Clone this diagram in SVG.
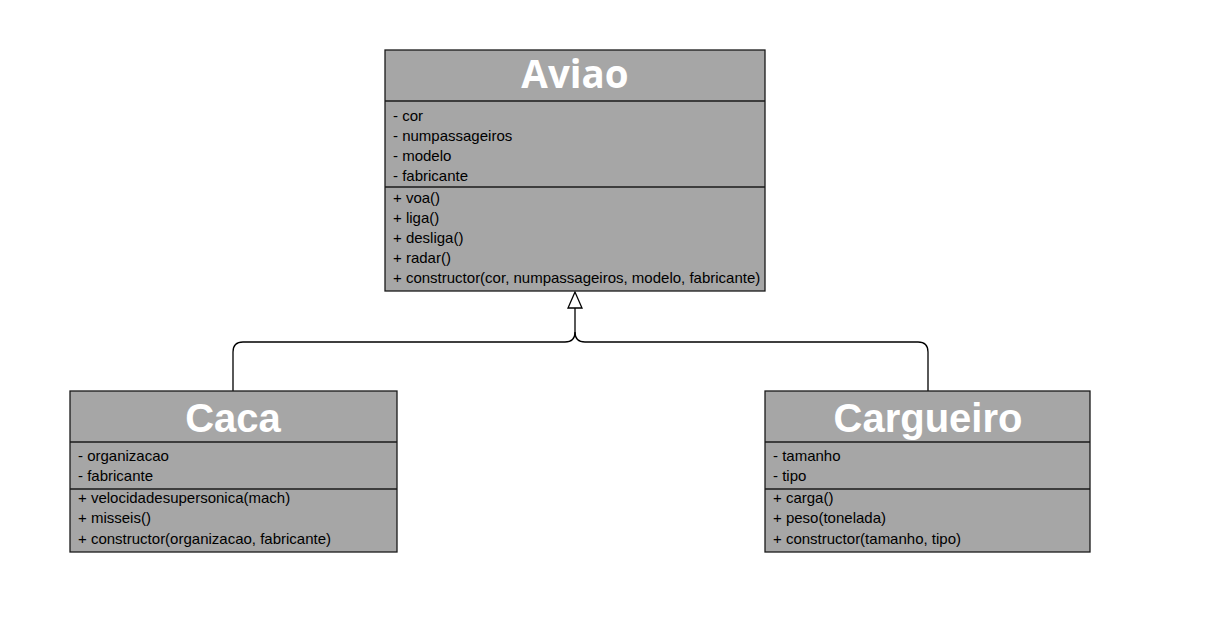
<svg xmlns="http://www.w3.org/2000/svg" width="1208" height="620" viewBox="0 0 1208 620">
<style>
.box{fill:#a6a6a6;stroke:#1a1a1a;stroke-width:1.3}
.div{stroke:#1a1a1a;stroke-width:1.3}
.t{font-family:"Liberation Sans",Arial,sans-serif;font-size:15px;fill:#000}
.h{font-family:"Liberation Sans",Arial,sans-serif;font-size:40px;font-weight:bold;fill:#fff;text-anchor:middle}
.ha{font-family:"Open Sans",sans-serif;font-size:38.5px;font-weight:bold;fill:#fff;text-anchor:middle}
.c{fill:none;stroke:#000;stroke-width:1.3}
</style>
<rect width="1208" height="620" fill="#fff"/>
<g id="connectors">
<path class="c" d="M233 391 V352 Q233 342 243 342 H565 Q575 342 575 332 V308"/>
<path class="c" d="M928 391 V352 Q928 342 918 342 H585 Q575 342 575 332"/>
<polygon points="575,292 568,308 582,308" fill="#fff" stroke="#000" stroke-width="1.3"/>
</g>
<g id="Aviao">
<rect class="box" x="385" y="50" width="380" height="241"/>
<line class="div" x1="385" y1="101" x2="765" y2="101"/>
<line class="div" x1="385" y1="187" x2="765" y2="187"/>
<text class="ha" x="575" y="88">Aviao</text>
<text class="t" x="393" y="121">- cor</text>
<text class="t" x="393" y="141">- numpassageiros</text>
<text class="t" x="393" y="161">- modelo</text>
<text class="t" x="393" y="181">- fabricante</text>
<text class="t" x="393" y="203">+ voa()</text>
<text class="t" x="393" y="223">+ liga()</text>
<text class="t" x="393" y="243">+ desliga()</text>
<text class="t" x="393" y="263">+ radar()</text>
<text class="t" x="393" y="283">+ constructor(cor, numpassageiros, modelo, fabricante)</text>
</g>
<g id="Caca">
<rect class="box" x="70" y="391" width="327" height="161"/>
<line class="div" x1="70" y1="442" x2="397" y2="442"/>
<line class="div" x1="70" y1="489" x2="397" y2="489"/>
<text class="h" x="233" y="432">Caca</text>
<text class="t" x="78" y="461">- organizacao</text>
<text class="t" x="78" y="481">- fabricante</text>
<text class="t" x="78" y="503">+ velocidadesupersonica(mach)</text>
<text class="t" x="78" y="523">+ misseis()</text>
<text class="t" x="78" y="544">+ constructor(organizacao, fabricante)</text>
</g>
<g id="Cargueiro">
<rect class="box" x="765" y="391" width="325" height="161"/>
<line class="div" x1="765" y1="442" x2="1090" y2="442"/>
<line class="div" x1="765" y1="489" x2="1090" y2="489"/>
<text class="h" x="928" y="432">Cargueiro</text>
<text class="t" x="773" y="461">- tamanho</text>
<text class="t" x="773" y="481">- tipo</text>
<text class="t" x="773" y="503">+ carga()</text>
<text class="t" x="773" y="523">+ peso(tonelada)</text>
<text class="t" x="773" y="544">+ constructor(tamanho, tipo)</text>
</g>
</svg>
